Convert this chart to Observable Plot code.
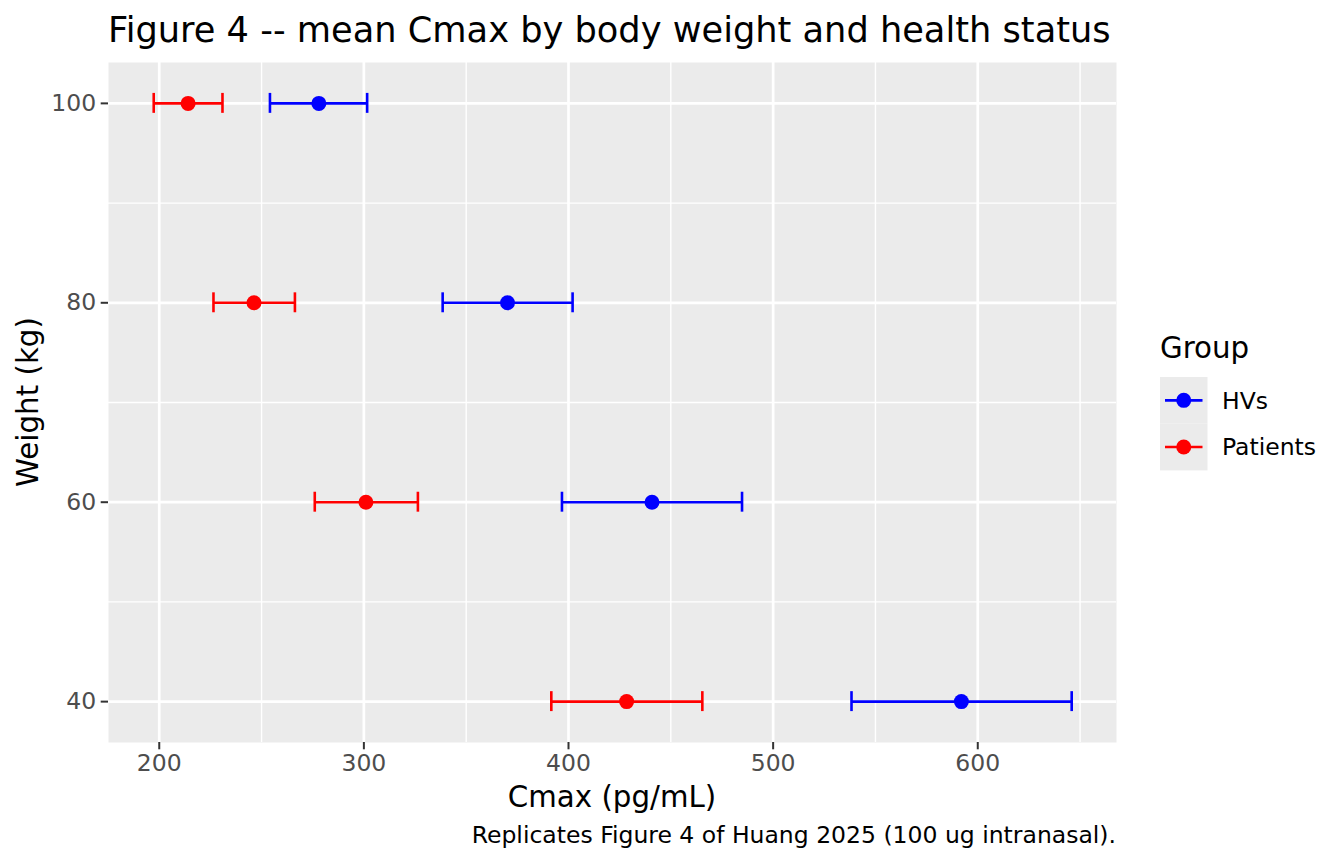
<!DOCTYPE html>
<html>
<head>
<meta charset="utf-8">
<script src="https://cdn.jsdelivr.net/npm/d3@7"></script>
<script src="https://cdn.jsdelivr.net/npm/@observablehq/plot@0.6"></script>
<style>
  html, body { margin: 0; padding: 0; background: #fff; }
  #chart { width: 1344px; height: 864px; }
</style>
</head>
<body>
<div id="chart"></div>
<script>
// ---- data ----
const weights = [40, 60, 80, 100];
const groups = ["HVs", "Patients"];
const groupColors = ["#0000FF", "#FF0000"];
const hvMean = [592.0, 440.8, 370.2, 278.0];
const hvLo   = [538.3, 396.8, 338.5, 254.1];
const hvHi   = [645.9, 484.8, 402.0, 301.6];
const ptMean = [428.4, 301.0, 246.3, 214.1];
const ptLo   = [391.6, 276.0, 226.5, 197.3];
const ptHi   = [465.4, 326.4, 266.3, 230.9];
const xTicks = [200, 300, 400, 500, 600];
const xMinor = [250, 350, 450, 550, 650];
const yTicks = [40, 60, 80, 100];
const yMinor = [50, 70, 90];
const titleText = "Figure 4 -- mean Cmax by body weight and health status";
const xLabel = "Cmax (pg/mL)";
const yLabel = "Weight (kg)";
const legendTitle = "Group";
const captionText = "Replicates Figure 4 of Huang 2025 (100 ug intranasal).";

const rows = [];
weights.forEach((w, i) => {
  rows.push({group: groups[0], w, mean: hvMean[i], lo: hvLo[i], hi: hvHi[i]});
  rows.push({group: groups[1], w, mean: ptMean[i], lo: ptLo[i], hi: ptHi[i]});
});

const W = 1344, H = 864;
const mL = 108, mR = W - 1116, mT = 62, mB = H - 742;
const capHalf = 1;
const barW = 2.6;

const chart = Plot.plot({
  width: W, height: H,
  marginLeft: mL, marginRight: mR, marginTop: mT, marginBottom: mB,
  style: {fontFamily: "DejaVu Sans", fontSize: "23.5px", background: "#fff"},
  x: {domain: [175.2, 667.8], label: null},
  y: {domain: [35.9, 104.1], label: null},
  color: {domain: groups, range: groupColors},
  marks: [
    Plot.frame({fill: "#EBEBEB", stroke: "none"}),
    Plot.gridX(xMinor, {stroke: "#fff", strokeOpacity: 1, strokeWidth: 1.4}),
    Plot.gridY(yMinor, {stroke: "#fff", strokeOpacity: 1, strokeWidth: 1.4}),
    Plot.gridX(xTicks, {stroke: "#fff", strokeOpacity: 1, strokeWidth: 2.7}),
    Plot.gridY(yTicks, {stroke: "#fff", strokeOpacity: 1, strokeWidth: 2.7}),
    Plot.axisX({ticks: xTicks, tickSize: 7.3, tickPadding: 5, tickFormat: d => String(d),
      stroke: "#333333", strokeWidth: 2, fill: "#4D4D4D", label: null}),
    Plot.axisY({ticks: yTicks, tickSize: 7.3, tickPadding: 5, tickFormat: d => String(d),
      stroke: "#333333", strokeWidth: 2, fill: "#4D4D4D", label: null}),
    Plot.ruleY(rows, {y: "w", x1: "lo", x2: "hi", stroke: "group", strokeWidth: barW}),
    Plot.ruleX(rows, {x: "lo", y1: d => d.w - capHalf, y2: d => d.w + capHalf, stroke: "group", strokeWidth: barW}),
    Plot.ruleX(rows, {x: "hi", y1: d => d.w - capHalf, y2: d => d.w + capHalf, stroke: "group", strokeWidth: barW}),
    Plot.dot(rows, {x: "mean", y: "w", fill: "group", r: 7.5, stroke: "none"})
  ]
});

document.getElementById("chart").appendChild(chart);

// ---- annotations: title, axis titles, caption, legend ----
const svg = d3.select(chart);
const font = "DejaVu Sans";
svg.append("text").attr("x", 108).attr("y", 42).attr("text-anchor", "start")
  .attr("font-family", font).attr("font-size", 35.2).attr("fill", "#000")
  .text(titleText);
svg.append("text").attr("x", (108 + 1116) / 2).attr("y", 807)
  .attr("text-anchor", "middle").attr("font-family", font).attr("font-size", 29.3).attr("fill", "#000")
  .text(xLabel);
svg.append("text").attr("transform", `translate(38,${(62 + 742) / 2}) rotate(-90)`)
  .attr("text-anchor", "middle").attr("font-family", font).attr("font-size", 29.3).attr("fill", "#000")
  .text(yLabel);
svg.append("text").attr("x", 1116).attr("y", 843)
  .attr("text-anchor", "end").attr("font-family", font).attr("font-size", 23.5).attr("fill", "#000")
  .text(captionText);

// legend
const lg = svg.append("g").attr("text-anchor", "start");
lg.append("text").attr("x", 1160).attr("y", 358).attr("text-anchor", "start")
  .attr("font-family", font).attr("font-size", 29.3).attr("fill", "#000").text(legendTitle);
const keyX = 1160, keyW = 47.5, keyTop = 377, keyH = 46.7;
groups.forEach((g, i) => {
  const cy = keyTop + keyH * i + keyH / 2;
  lg.append("rect").attr("x", keyX).attr("y", keyTop + keyH * i).attr("width", keyW).attr("height", keyH).attr("fill", "#EBEBEB");
  lg.append("line").attr("x1", keyX + 5).attr("x2", keyX + keyW - 5).attr("y1", cy).attr("y2", cy)
    .attr("stroke", groupColors[i]).attr("stroke-width", barW);
  lg.append("circle").attr("cx", keyX + keyW / 2).attr("cy", cy).attr("r", 7.5).attr("fill", groupColors[i]);
  lg.append("text").attr("x", 1222).attr("y", cy).attr("dy", "0.35em").attr("text-anchor", "start")
    .attr("font-family", font).attr("font-size", 23.5).attr("fill", "#000").text(g);
});
</script>
</body>
</html>
